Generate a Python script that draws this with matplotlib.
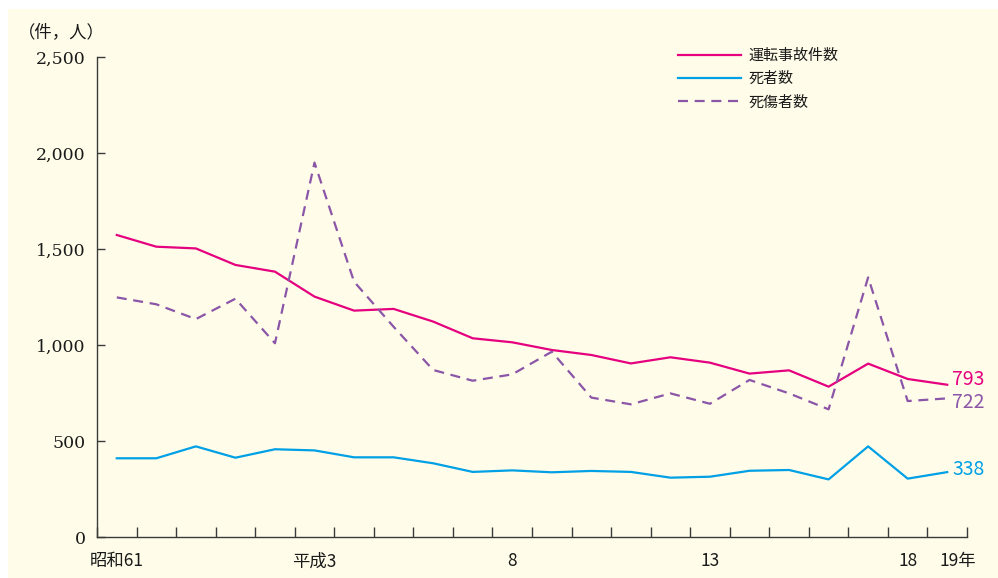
import matplotlib
matplotlib.use('Agg')

import numpy as np
import matplotlib.pyplot as plt
import matplotlib.transforms as mtransforms
from matplotlib.patches import Rectangle

plt.rcParams['font.family'] = ['Noto Sans CJK JP', 'DejaVu Sans']

# 昭和61年 ～ 平成19年
years = list(range(22))
year_labels = ['昭和61', '', '', '', '', '平成3', '', '', '', '', '8',
               '', '', '', '', '13', '', '', '', '', '18', '19年']

accidents = [1573, 1512, 1503, 1417, 1382, 1252, 1179, 1188, 1122, 1035, 1014,
             974, 948, 904, 936, 908, 851, 868, 783, 903, 823, 793]
deaths = [410, 410, 472, 413, 457, 451, 415, 415, 384, 339, 347,
          337, 344, 339, 309, 314, 345, 349, 300, 472, 304, 338]
casualties = [1248, 1212, 1135, 1241, 1009, 1950, 1330, 1095, 870, 814, 847,
              965, 726, 691, 748, 694, 818, 748, 665, 1352, 708, 722]

c_acc = '#E5007F'
c_dead = '#00A0E6'
c_cas = '#8B55A8'
bg = '#FFFDE9'
axis_col = '#3a3a3a'

fig = plt.figure(figsize=(9.98, 5.78), dpi=100)
fig.patches.append(Rectangle((8/998, 0), 1 - 8/998, 1 - 9/578, transform=fig.transFigure,
                             facecolor=bg, edgecolor='none', zorder=-10))
ax = fig.add_axes([97/998, 1 - 537/578, 870/998, 480/578])
ax.set_facecolor('none')

ax.plot(years, accidents, color=c_acc, linewidth=1.6, label='運転事故件数')
ax.plot(years, deaths, color=c_dead, linewidth=1.6, label='死者数')
ax.plot(years, casualties, color=c_cas, linewidth=1.6, linestyle=(0, (4.5, 3)), label='死傷者数')

ax.set_xlim(-0.5, 21.5)
ax.set_ylim(0, 2500)

for s in ['top', 'right']:
    ax.spines[s].set_visible(False)
for s in ['left', 'bottom']:
    ax.spines[s].set_color(axis_col)
    ax.spines[s].set_linewidth(1.0)

ax.set_yticks([0, 500, 1000, 1500, 2000, 2500])
ax.set_yticklabels(['0', '500', '1,000', '1,500', '2,000', '2,500'],
                   family='DejaVu Serif', fontsize=12.5, color='#1a1a1a')
ax.tick_params(axis='y', direction='in', length=6, width=1, color=axis_col, pad=8)

ax.set_xticks(years)
ax.set_xticklabels(year_labels, fontsize=12.5, color='#1a1a1a')
ax.set_xticks(np.arange(-0.5, 22, 1), minor=True)
ax.tick_params(axis='x', which='major', length=0, pad=11)
ax.tick_params(axis='x', which='minor', direction='in', length=7, width=1, color=axis_col)
last = ax.get_xticklabels()[-1]
last.set_ha('left')
last.set_transform(last.get_transform() + mtransforms.ScaledTranslation(-8/100, 0, fig.dpi_scale_trans))

fig.text(18/998, 1 - 32/578, '（件，人）', fontsize=12.5, ha='left', va='center', color='#1a1a1a')

# end labels
ax.text(21.12, 818, str(accidents[-1]), color=c_acc, fontsize=14, va='center')
ax.text(21.12, 698, str(casualties[-1]), color=c_cas, fontsize=14, va='center')
ax.text(21.12, 354, str(deaths[-1]), color=c_dead, fontsize=14, va='center')

leg = ax.legend(loc='upper left', bbox_to_anchor=(0.652, 1.045), frameon=False,
                fontsize=10.8, handlelength=4.2, handletextpad=0.5, labelspacing=0.6)
for t in leg.get_texts():
    t.set_color('#1a1a1a')

fig.savefig('out.png', dpi=100)
